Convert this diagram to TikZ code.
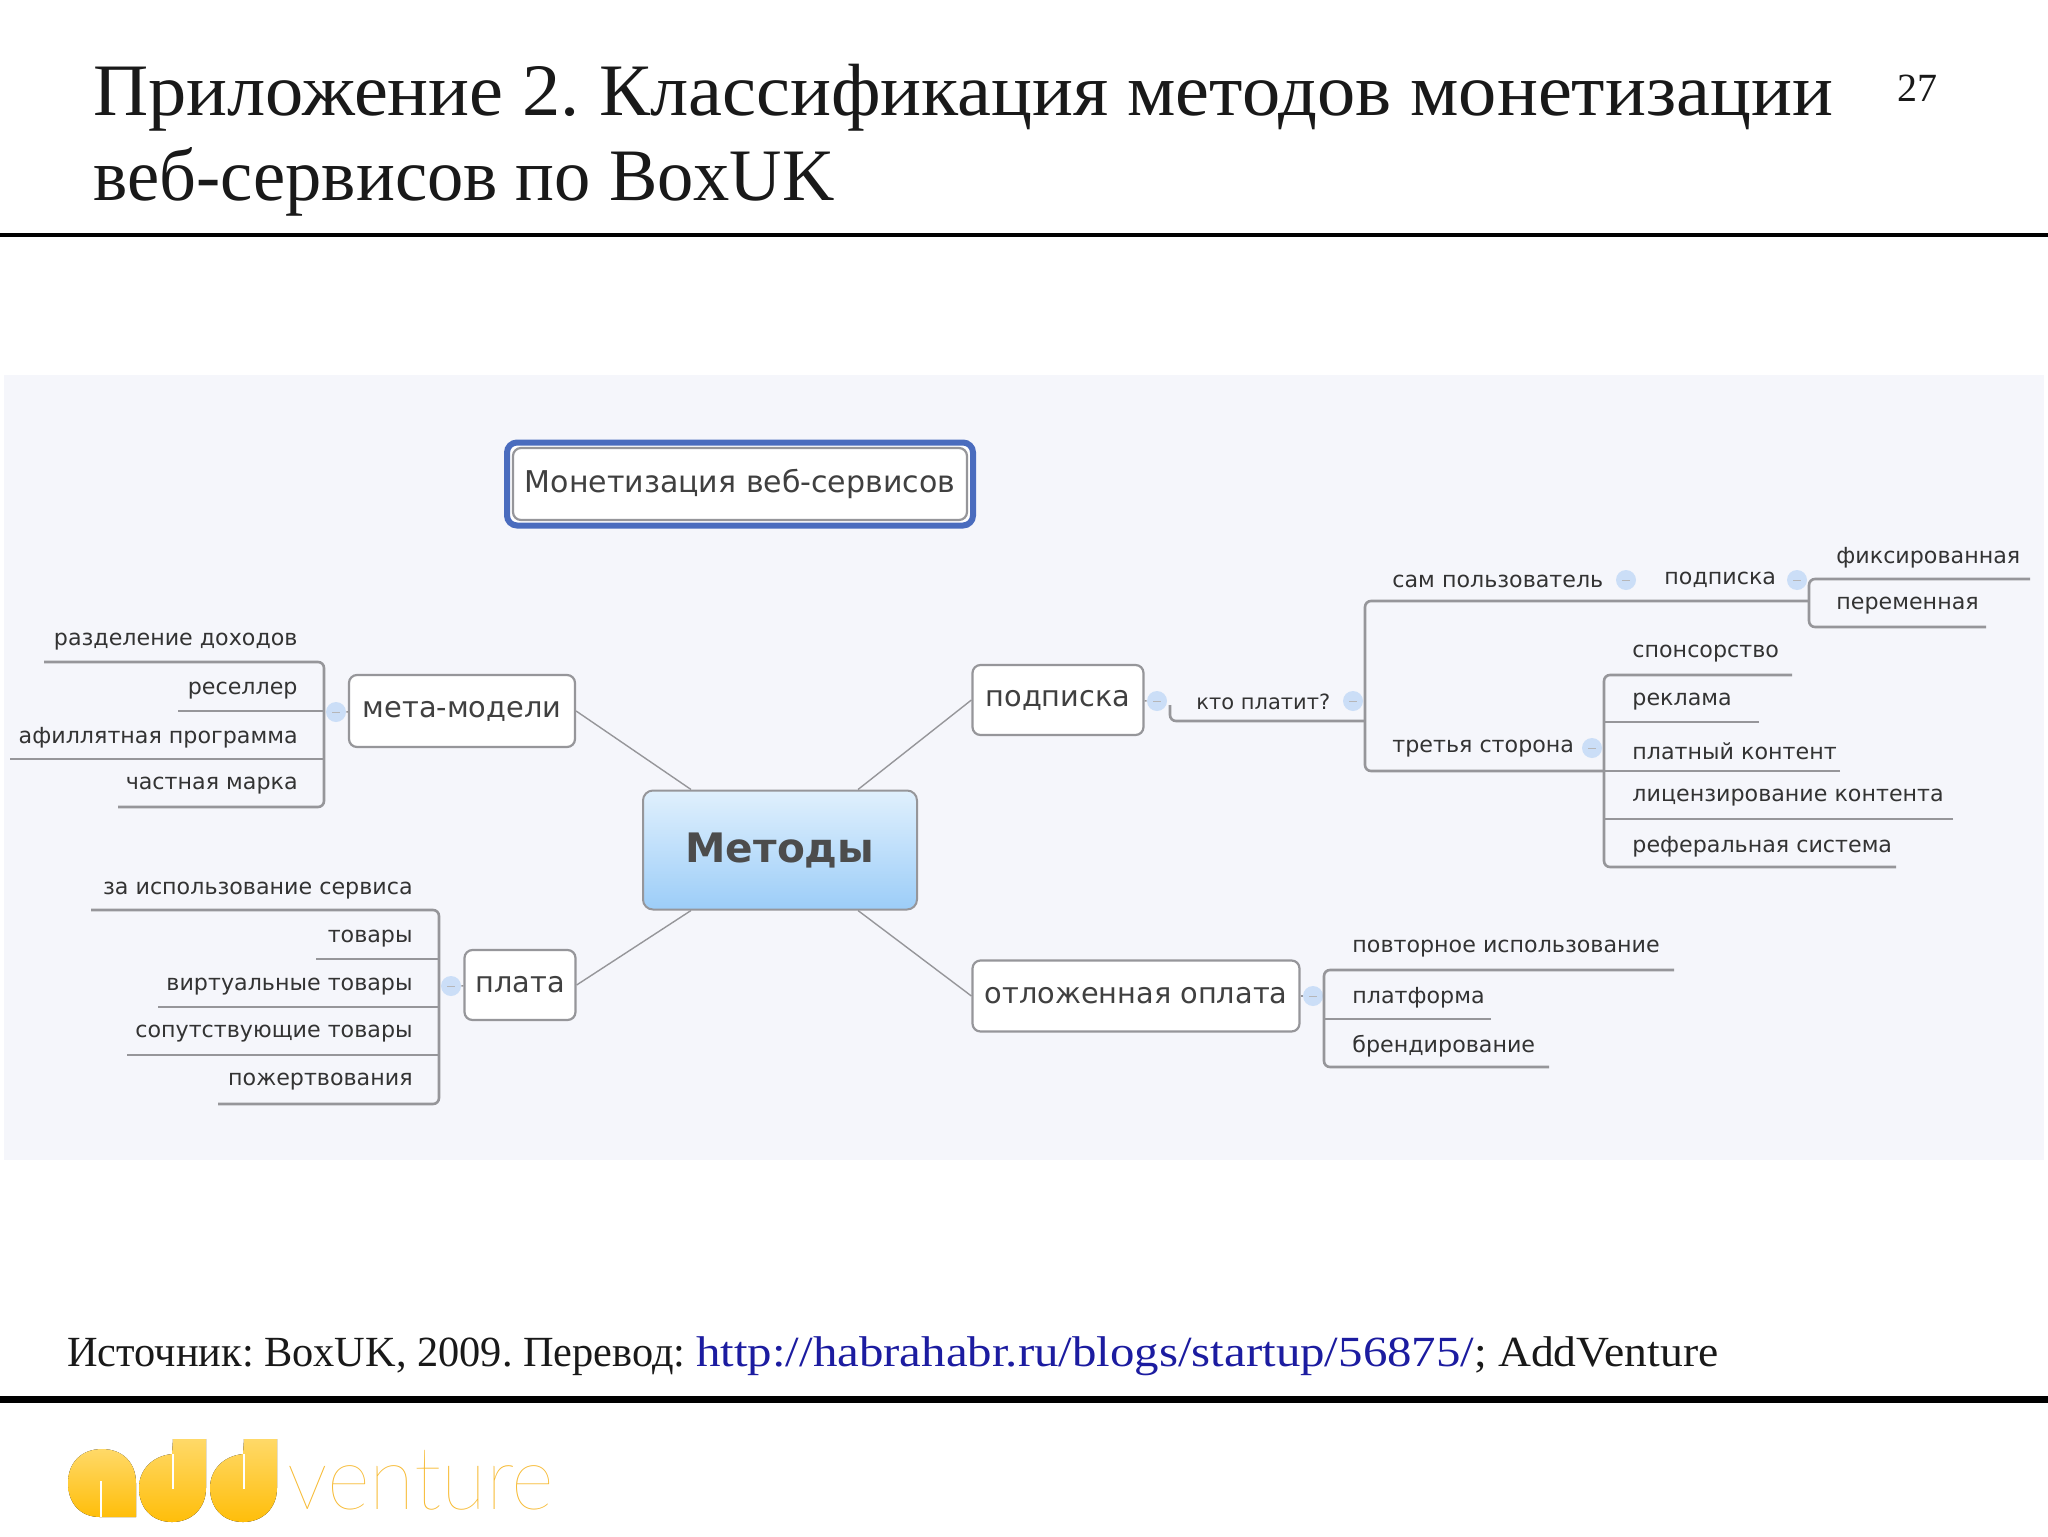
\documentclass[tikz,border=0pt]{standalone}
\usepackage{fontspec}
\setmainfont{Liberation Serif}
\newfontfamily\mapfont{DejaVu Sans}
\newfontfamily\logofont{Lato Hairline}
\usetikzlibrary{calc}
\frenchspacing
\definecolor{panelbg}{HTML}{F5F6FB}
\definecolor{rulegray}{HTML}{96969A}
\definecolor{knobblue}{HTML}{CBDEF7}
\definecolor{linkblue}{HTML}{1C1CA0}
\definecolor{logotop}{HTML}{FFD968}
\definecolor{logobot}{HTML}{FFBE0A}
\definecolor{logoword}{HTML}{F7B92E}
\definecolor{hubtop}{HTML}{E0F0FD}
\definecolor{hubbot}{HTML}{9CCDF8}
\definecolor{frameblue}{HTML}{4A6CBE}

\begin{document}
\begin{tikzpicture}
  [x=0.5pt, y=-0.5pt,
   slidetext/.style={inner sep=0pt, text=black!90},
   topic/.style={draw=rulegray, line width=1.1pt, fill=white, rounded corners=4pt,
     inner sep=0pt, font=\mapfont\fontsize{14.4}{16}\selectfont, text=black!75},
   leaf/.style={inner sep=0pt, yshift=-2pt, font=\mapfont\fontsize{11.1}{12}\selectfont, text=black!80},
   branch/.style={draw=rulegray, line width=1.3pt, rounded corners=3pt},
   spoke/.style={draw=rulegray, line width=0.7pt},
   knob/.style={circle, fill=knobblue, draw=none, minimum size=10pt, inner sep=0pt,
     path picture={\draw[rulegray!70, line width=0.4pt]
       ([xshift=-2pt]path picture bounding box.center) -- ([xshift=2pt]path picture bounding box.center);}}]

  \useasboundingbox (0,0) rectangle (2048,1536);
  \fill[white] (0,0) rectangle (2048,1536);
  \fill[panelbg] (4,375) rectangle (2044,1160);

  % header and footer
  \node[slidetext, anchor=base west, xscale=1.033, font=\fontsize{37}{40}\selectfont] (headone) at (93,115)
    {Приложение 2. Классификация методов монетизации};
  \node[slidetext, anchor=base west, xscale=0.98, font=\fontsize{37}{40}\selectfont] (headtwo) at (93,200)
    {веб-сервисов по BoxUK};
  \node[slidetext, anchor=base west, font=\fontsize{20}{24}\selectfont] (pageno) at (1897,102) {27};
  \node[slidetext, anchor=base west, font=\fontsize{21.5}{26}\selectfont] (source) at (67,1366)
    {\scalebox{0.985}[1]{Источник: BoxUK, 2009. Перевод: }\textcolor{linkblue}{\scalebox{1.137}[1]{http://habrahabr.ru/blogs/startup/56875/}}\scalebox{1.06}[1]{; AddVenture}};
  \coordinate (topl) at (0,235);
  \coordinate (topr) at (2048,235);
  \coordinate (botl) at (0,1399);
  \coordinate (botr) at (2048,1399);
  \draw[line width=2pt] (topl) -- (topr);
  \draw[line width=3.5pt] (botl) -- (botr);

  % centre and the first level
  \node[draw=rulegray, line width=1pt, rounded corners=5pt, minimum width=137pt, minimum height=59.5pt,
    top color=hubtop, bottom color=hubbot, inner sep=0pt, text=black!70,
    font=\mapfont\bfseries\fontsize{20.3}{24}\selectfont] (methods) at (780,850) {Методы};
  \node[draw=frameblue, line width=3pt, rounded corners=5pt, fill=white,
    minimum width=233pt, minimum height=41.5pt] (maptitleframe) at (740,484) {};
  \node[topic, minimum width=227pt, minimum height=36pt,
    font=\mapfont\fontsize{15}{18}\selectfont] (maptitle) at (740,484) {Монетизация веб-сервисов};
  \node[topic, minimum width=113pt, minimum height=36pt] (meta) at (462,711) {мета-модели};
  \node[topic, minimum width=55.5pt, minimum height=35pt] (fee) at (520,985) {плата};
  \node[topic, minimum width=85.5pt, minimum height=35pt] (subs) at (1058,700) {подписка};
  \node[topic, minimum width=163.5pt, minimum height=35.5pt] (defer) at (1136,996) {отложенная оплата};

  \draw[spoke] (meta.east) -- ([xshift=-44.5pt]methods.north);
  \draw[spoke] (fee.east) -- ([xshift=-44.5pt]methods.south);
  \draw[spoke] (subs.west) -- ([xshift=39pt]methods.north);
  \draw[spoke] (defer.west) -- ([xshift=39pt]methods.south);

  % left leaves
  \foreach \nm/\txt/\ty/\ly/\lx in {lmone/разделение доходов/637/662/44, lmtwo/реселлер/686/711/178,
      lmthree/афиллятная программа/735/759/10, lmfour/частная марка/781/807/118}{
    \node[leaf, anchor=mid east] (\nm) at (298,\ty) {\txt};
    \coordinate (\nm-a) at (324,\ly);
    \coordinate (\nm-b) at (\lx,\ly);
  }
  \foreach \nm/\txt/\ty/\ly/\lx in {lfone/за использование сервиса/886/910/91, lftwo/товары/934/959/316,
      lfthree/виртуальные товары/982/1007/158, lffour/сопутствующие товары/1029/1055/127,
      lffive/пожертвования/1077/1104/218}{
    \node[leaf, anchor=mid east] (\nm) at (413,\ty) {\txt};
    \coordinate (\nm-a) at (439,\ly);
    \coordinate (\nm-b) at (\lx,\ly);
  }
  \node[knob] (kmeta) at (336,712) {};
  \node[knob] (kfee) at (451,986) {};
  \draw[branch] (lmone-b) -- (lmone-a) -- (lmfour-a) -- (lmfour-b);
  \draw[branch] (lmtwo-b) -- (lmtwo-a);
  \draw[branch] (lmthree-b) -- (lmthree-a);
  \draw[branch] (lfone-b) -- (lfone-a) -- (lffive-a) -- (lffive-b);
  \foreach \nm in {lftwo,lfthree,lffour}
    \draw[branch] (\nm-b) -- (\nm-a);
  \draw[spoke] (meta) -- (kmeta);
  \draw[spoke] (fee) -- (kfee);

  % right leaves
  \node[knob] (ksubs) at (1157,701) {};
  \node[knob] (kdefer) at (1313,996) {};
  \node[leaf, anchor=mid west, font=\mapfont\fontsize{10.5}{12}\selectfont] (who) at (1196,701) {кто платит?};
  \node[knob] (kwho) at (1353,701) {};
  \node[leaf, anchor=mid west] (self) at (1392,579) {сам пользователь};
  \node[knob] (kself) at (1626,580) {};
  \node[leaf, anchor=mid west] (selfsub) at (1664,576) {подписка};
  \node[knob] (kselfsub) at (1797,580) {};
  \node[leaf, anchor=mid west] (third) at (1392,744) {третья сторона};
  \node[knob] (kthird) at (1592,748) {};
  \coordinate (whoa) at (1170,705);
  \coordinate (whob) at (1170,721);
  \coordinate (whoc) at (1365,721);
  \coordinate (selfa) at (1365,601);
  \coordinate (selfb) at (1809,601);
  \coordinate (thirda) at (1365,771);
  \coordinate (thirdb) at (1604,771);
  \draw[spoke] (subs) -- (ksubs);
  \draw[branch] (whoa) -- (whob) -- (whoc);
  \draw[branch] (selfb) -- (selfa) -- (thirda) -- (thirdb);

  \foreach \nm/\txt/\ty/\ly/\lx in {raone/фиксированная/555/579/2030, ratwo/переменная/601/627/1986}{
    \node[leaf, anchor=mid west] (\nm) at (1836,\ty) {\txt};
    \coordinate (\nm-a) at (1809,\ly);
    \coordinate (\nm-b) at (\lx,\ly);
  }
  \draw[branch] (raone-b) -- (raone-a) -- (ratwo-a) -- (ratwo-b);

  \foreach \nm/\txt/\ty/\ly/\lx in {rbone/спонсорство/649/675/1792, rbtwo/реклама/697/722/1759,
      rbthree/платный контент/751/771/1840, rbfour/лицензирование контента/793/819/1953,
      rbfive/реферальная система/844/867/1896}{
    \node[leaf, anchor=mid west] (\nm) at (1632,\ty) {\txt};
    \coordinate (\nm-a) at (1604,\ly);
    \coordinate (\nm-b) at (\lx,\ly);
  }
  \draw[branch] (rbone-b) -- (rbone-a) -- (rbfive-a) -- (rbfive-b);
  \foreach \nm in {rbtwo,rbthree,rbfour}
    \draw[branch] (\nm-b) -- (\nm-a);

  \foreach \nm/\txt/\ty/\ly/\lx in {rcone/повторное использование/944/970/1674, rctwo/платформа/995/1019/1491,
      rcthree/брендирование/1044/1067/1549}{
    \node[leaf, anchor=mid west] (\nm) at (1352,\ty) {\txt};
    \coordinate (\nm-a) at (1324,\ly);
    \coordinate (\nm-b) at (\lx,\ly);
  }
  \draw[branch] (rcone-b) -- (rcone-a) -- (rcthree-a) -- (rcthree-b);
  \draw[branch] (rctwo-b) -- (rctwo-a);
  \draw[spoke] (defer) -- (kdefer);

  % logo
  \fill[top color=logotop, bottom color=logobot] (136,1517) -- (136,1483)
    .. controls (136,1462) and (122,1449) .. (102,1449)
    .. controls (82,1449) and (68,1462) .. (68,1483)
    .. controls (68,1503) and (80,1517) .. (100,1517) -- cycle;
  \foreach \dx in {0,71}{
    \fill[top color=logotop, bottom color=logobot] (173+\dx,1439) -- (206+\dx,1439) -- (206+\dx,1488)
      .. controls (206+\dx,1508) and (192+\dx,1522) .. (172+\dx,1522)
      .. controls (152+\dx,1522) and (139+\dx,1508) .. (139+\dx,1488)
      .. controls (139+\dx,1470) and (152+\dx,1456) .. (172+\dx,1454) -- cycle;
    \draw[white, line width=1pt] (172.5+\dx,1454) -- (172.5+\dx,1489);
  }
  \draw[white, line width=1pt] (101,1481) -- (101,1517);
  \node[inner sep=0pt, anchor=base west, text=logoword, xscale=0.94, font=\logofont\fontsize{44}{50}\selectfont] (venture) at (287,1509) {venture};
\end{tikzpicture}
\end{document}
